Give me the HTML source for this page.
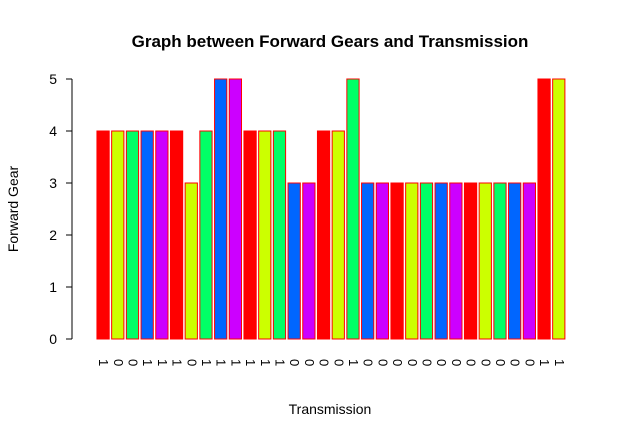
<!DOCTYPE html>
<html><head><meta charset="utf-8"><style>body{margin:0;background:#fff}svg{display:block}</style></head>
<body>
<svg id="c" width="625" height="439" xmlns="http://www.w3.org/2000/svg" font-family="Liberation Sans, Arial, sans-serif">
<text x="330" y="47" font-size="17" font-weight="bold" text-anchor="middle">Graph between Forward Gears and Transmission</text>
<text x="330" y="414" font-size="14" text-anchor="middle">Transmission</text>
<text transform="translate(18,209) rotate(-90)" font-size="14" text-anchor="middle">Forward Gear</text>
<g id="g"></g>
</svg>
<script>
const gears=[4,4,4,4,4,4,3,4,5,5,4,4,4,3,3,4,4,5,3,3,3,3,3,3,3,3,3,3,3,3,5,5];
const labels=["1","0","0","1","1","1","0","1","1","1","1","1","1","0","0","0","0","1","0","0","0","0","0","0","0","0","0","0","0","0","1","1"];
const yTicks=[0,1,2,3,4,5];
const colors=["#FF0000","#CCFF00","#00FF66","#0066FF","#CC00FF"];
const NS="http://www.w3.org/2000/svg",g=document.getElementById('g');
const xs=u=>94.5+u*12.25, ys=v=>339-v*52;
function mk(t,a){const e=document.createElementNS(NS,t);for(const k in a)e.setAttribute(k,a[k]);g.appendChild(e);return e;}
gears.forEach((v,i)=>{
  const l=0.2+i*1.2;
  const r=mk('rect',{x:xs(l),y:ys(v),width:12.25,height:ys(0)-ys(v),fill:colors[i%5],stroke:'#FF0000','stroke-width':1});
  
  
  const cx=xs(l+0.5),t=mk('text',{transform:`translate(${cx-4},359) rotate(90)`,'font-size':13});
  t.textContent=labels[i];
  
  
});
const ax=mk('line',{x1:72,x2:72,y1:ys(0),y2:ys(5),stroke:'#000'});


yTicks.forEach(v=>{
  const tk=mk('line',{x1:66,x2:72,y1:ys(v),y2:ys(v),stroke:'#000'});
  
  
  const t=mk('text',{x:57,y:ys(v)+5,'font-size':14,'text-anchor':'end'});
  t.textContent=v;
  
  
});
</script>
</body></html>
